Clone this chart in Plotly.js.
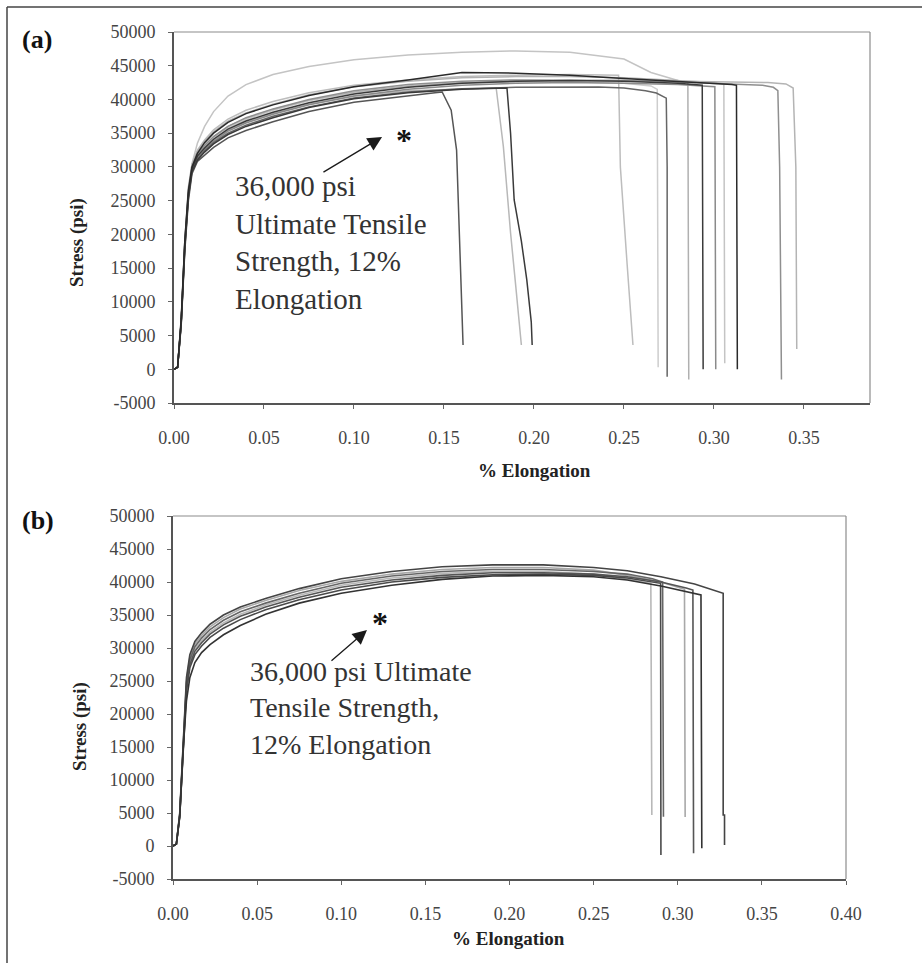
<!DOCTYPE html>
<html>
<head>
<meta charset="utf-8">
<script src="https://cdn.plot.ly/plotly-3.0.1.min.js"></script>
<style>html,body{margin:0;padding:0;background:#fff;}#chart{width:922px;height:963px;}</style>
</head>
<body>
<div id="chart"></div>
<script>
// ---------- Data ----------
// Panel (a): common strain grid (% elongation) and stress (psi) per specimen
const gridA = [0, 0.002, 0.004, 0.006, 0.008, 0.010, 0.013, 0.017, 0.022, 0.030, 0.040, 0.055, 0.075, 0.100, 0.130, 0.160, 0.190, 0.220, 0.250, 0.280, 0.310, 0.330];

const a1Stress = [0, 300, 6500, 17500, 25000, 29000, 30800, 31800, 32900, 34300, 35400, 36700, 38200, 39600, 40600];
const a1TailX = [0.145, 0.149, 0.154, 0.157, 0.158, 0.159, 0.1606];
const a1TailY = [41000, 41100, 38400, 32500, 25100, 15800, 3600];

const a2Stress = [0, 300, 7000, 18500, 26000, 29800, 31500, 32800, 34000, 35400, 36600, 37900, 39300, 40500, 41300, 41600];
const a2TailX = [0.179, 0.183, 0.187, 0.190, 0.193];
const a2TailY = [41700, 33000, 20200, 12000, 3600];

const a3Stress = [0, 300, 6800, 18000, 25500, 29300, 31000, 32200, 33400, 34800, 36000, 37300, 38800, 40100, 41000, 41500];
const a3TailX = [0.185, 0.187, 0.189, 0.193, 0.196, 0.1985, 0.199];
const a3TailY = [41700, 35000, 25100, 19000, 13300, 7000, 3600];

const a4Stress = [0, 300, 7200, 18800, 26500, 30300, 32500, 34000, 35500, 37100, 38400, 39700, 41000, 42100, 42900, 43400, 43600, 43700];
const a4TailX = [0.247, 0.248, 0.2517, 0.255];
const a4TailY = [43600, 30000, 15800, 3600];

const a5Stress = [0, 300, 7000, 18500, 26000, 29800, 31700, 33000, 34300, 35800, 37000, 38400, 39800, 41000, 41900, 42400, 42600, 42600, 42400];
const a5TailX = [0.265, 0.2685, 0.269];
const a5TailY = [42000, 41500, 300];

const a6Stress = [0, 300, 6800, 18000, 25800, 29500, 31200, 32400, 33600, 35000, 36200, 37500, 38900, 40200, 41100, 41600, 41800, 41900];
const a6TailX = [0.236, 0.250, 0.262, 0.268, 0.2735, 0.274, 0.274];
const a6TailY = [41850, 41700, 41300, 40960, 40200, 30000, -1100];

const a7Stress = [0, 300, 7300, 19000, 26800, 30300, 32300, 33800, 35200, 36800, 38000, 39300, 40700, 41900, 42700, 43200, 43400, 43400, 43200, 42800];
const a7TailX = [0.2855, 0.286];
const a7TailY = [42600, -1500];

const a8Stress = [0, 300, 7000, 18500, 26000, 29800, 31600, 32800, 34100, 35600, 36800, 38100, 39500, 40800, 41800, 42400, 42700, 42800, 42700, 42400];
const a8TailX = [0.2935, 0.294];
const a8TailY = [42100, 0];

const a9Stress = [0, 300, 6900, 18200, 25700, 29600, 31400, 32600, 33800, 35300, 36500, 37800, 39200, 40500, 41500, 42100, 42400, 42500, 42400, 42200];
const a9TailX = [0.3005, 0.301];
const a9TailY = [41900, 0];

const a10Stress = [0, 300, 7000, 19000, 27000, 30500, 33500, 36000, 38200, 40500, 42200, 43700, 44900, 45900, 46600, 47000, 47200, 47000, 46000];
const a10TailX = [0.265, 0.280, 0.300, 0.3055, 0.306];
const a10TailY = [44000, 42800, 42500, 42300, 900];

const a11Stress = [0, 300, 7500, 19000, 26500, 30000, 32000, 33600, 35000, 36600, 37900, 39200, 40600, 41900, 42900, 44000, 43900, 43600, 43100, 42700, 42200];
const a11TailX = [0.3125, 0.313];
const a11TailY = [42100, 0];

const a12Stress = [0, 300, 7100, 18700, 26200, 30000, 31900, 33200, 34500, 36000, 37300, 38600, 40000, 41300, 42200, 42700, 42900, 42900, 42800, 42600, 42300];
const a12TailX = [0.327, 0.333, 0.3355, 0.3365, 0.3375];
const a12TailY = [42100, 41800, 41300, 30000, -1500];

const a13Stress = [0, 300, 7000, 18400, 26000, 29900, 31800, 33100, 34500, 36000, 37200, 38500, 39900, 41100, 42000, 42500, 42700, 42800, 42800, 42700, 42600, 42500];
const a13TailX = [0.340, 0.344, 0.3455, 0.346];
const a13TailY = [42300, 41700, 30000, 3000];

// Panel (b)
const gridB = [0, 0.002, 0.004, 0.006, 0.008, 0.010, 0.013, 0.017, 0.022, 0.030, 0.040, 0.055, 0.075, 0.100, 0.130, 0.160, 0.190, 0.220, 0.250, 0.270];

const b1Stress = [0, 300, 4600, 15500, 24300, 27800, 29800, 31100, 32400, 33800, 35100, 36500, 38000, 39500, 40600, 41300, 41600, 41600, 41200, 40400];
const b1TailX = [0.2840, 0.2846];
const b1TailY = [39800, 4700];

const b2Stress = [0, 300, 4500, 15000, 23500, 27000, 29000, 30300, 31600, 33000, 34300, 35800, 37300, 38800, 40000, 40700, 41100, 41200, 41000, 40600];
const b2TailX = [0.285, 0.2898, 0.290];
const b2TailY = [40000, 39800, -1360];

const b3Stress = [0, 300, 4700, 15800, 24700, 28200, 30200, 31500, 32800, 34200, 35500, 36800, 38300, 39800, 40900, 41600, 41900, 41900, 41600, 41200];
const b3TailX = [0.285, 0.291, 0.2915];
const b3TailY = [40500, 40000, 4440];

const b4Stress = [0, 300, 4800, 16000, 25000, 28600, 30600, 31900, 33200, 34600, 35900, 37200, 38700, 40100, 41200, 41900, 42200, 42200, 41800, 41000];
const b4TailX = [0.290, 0.3040, 0.3044];
const b4TailY = [40000, 38900, 4400];

const b5Stress = [0, 300, 4600, 15300, 24000, 27500, 29500, 30800, 32100, 33500, 34800, 36200, 37700, 39200, 40300, 41000, 41400, 41400, 41200, 40800];
const b5TailX = [0.290, 0.305, 0.309, 0.3094];
const b5TailY = [40000, 39100, 38780, -1100];

const b6Stress = [0, 300, 4400, 14500, 22000, 25500, 27800, 29300, 30500, 32000, 33400, 35100, 36800, 38300, 39500, 40400, 40900, 41000, 40800, 40300];
const b6TailX = [0.290, 0.305, 0.3138, 0.3143];
const b6TailY = [39400, 38600, 38030, -350];

const b7Stress = [0, 300, 5000, 16500, 25500, 29000, 31000, 32300, 33600, 35000, 36200, 37500, 39000, 40500, 41600, 42300, 42600, 42600, 42200, 41700];
const b7TailX = [0.290, 0.310, 0.320, 0.327, 0.3270, 0.3278, 0.3278];
const b7TailY = [40800, 39700, 38900, 38300, 4700, 4700, 150];

// Axis ticks
const yTickVals = [-5000, 0, 5000, 10000, 15000, 20000, 25000, 30000, 35000, 40000, 45000, 50000];
const yTickText = ['-5000', '0', '5000', '10000', '15000', '20000', '25000', '30000', '35000', '40000', '45000', '50000'];
const xTickValsA = [0, 0.05, 0.10, 0.15, 0.20, 0.25, 0.30, 0.35];
const xTickTextA = ['0.00', '0.05', '0.10', '0.15', '0.20', '0.25', '0.30', '0.35'];
const xTickValsB = [0, 0.05, 0.10, 0.15, 0.20, 0.25, 0.30, 0.35, 0.40];
const xTickTextB = ['0.00', '0.05', '0.10', '0.15', '0.20', '0.25', '0.30', '0.35', '0.40'];

// Annotation targets (UTS marker 36,000 psi at 12%)
const arrowA = {tailX: 0.0822, tailY: 29100, headX: 0.1156, headY: 34440};
const starA = {x: 0.1278, y: 34000};
const arrowB = {tailX: 0.0933, tailY: 27880, headX: 0.1153, headY: 32720};
const starB = {x: 0.1231, y: 33800};

// ---------- Build traces ----------
function curve(grid, stress, tx, ty, color, xa, ya, w) {
  return {
    type: 'scatter', mode: 'lines',
    x: grid.slice(0, stress.length).concat(tx),
    y: stress.concat(ty),
    xaxis: xa, yaxis: ya,
    line: {color: color, width: w || 1.5},
    hoverinfo: 'skip', showlegend: false
  };
}

const traces = [
  curve(gridA, a10Stress, a10TailX, a10TailY, '#c4c4c4', 'x', 'y'),
  curve(gridA, a5Stress, a5TailX, a5TailY, '#cdcdcd', 'x', 'y'),
  curve(gridA, a4Stress, a4TailX, a4TailY, '#bdbdbd', 'x', 'y'),
  curve(gridA, a2Stress, a2TailX, a2TailY, '#b8b8b8', 'x', 'y'),
  curve(gridA, a7Stress, a7TailX, a7TailY, '#b0b0b0', 'x', 'y'),
  curve(gridA, a13Stress, a13TailX, a13TailY, '#b4b4b4', 'x', 'y'),
  curve(gridA, a9Stress, a9TailX, a9TailY, '#8a8a8a', 'x', 'y'),
  curve(gridA, a12Stress, a12TailX, a12TailY, '#8f8f8f', 'x', 'y'),
  curve(gridA, a6Stress, a6TailX, a6TailY, '#666666', 'x', 'y'),
  curve(gridA, a1Stress, a1TailX, a1TailY, '#555555', 'x', 'y'),
  curve(gridA, a3Stress, a3TailX, a3TailY, '#3a3a3a', 'x', 'y'),
  curve(gridA, a8Stress, a8TailX, a8TailY, '#3a3a3a', 'x', 'y'),
  curve(gridA, a11Stress, a11TailX, a11TailY, '#2a2a2a', 'x', 'y'),

  curve(gridB, b1Stress, b1TailX, b1TailY, '#b8b8b8', 'x2', 'y2', 1.6),
  curve(gridB, b4Stress, b4TailX, b4TailY, '#a8a8a8', 'x2', 'y2', 1.6),
  curve(gridB, b3Stress, b3TailX, b3TailY, '#666666', 'x2', 'y2', 1.6),
  curve(gridB, b5Stress, b5TailX, b5TailY, '#555555', 'x2', 'y2', 1.6),
  curve(gridB, b2Stress, b2TailX, b2TailY, '#4a4a4a', 'x2', 'y2', 1.6),
  curve(gridB, b7Stress, b7TailX, b7TailY, '#444444', 'x2', 'y2', 1.6),
  curve(gridB, b6Stress, b6TailX, b6TailY, '#333333', 'x2', 'y2', 1.6)
];

// ---------- Layout ----------
const W = 922, H = 963;
const px = v => v / W;
const py = v => 1 - v / H;
const serif = 'Liberation Serif';
const tickFont = {family: serif, size: 18, color: '#444'};

function xAxis(domain, range, vals, text, anchor) {
  return {
    domain: domain, range: range, anchor: anchor,
    showgrid: false, zeroline: false,
    showline: true, linecolor: '#555', linewidth: 2,
    ticks: 'outside', ticklen: 4, tickwidth: 1, tickcolor: '#666',
    tickvals: vals, ticktext: text, tickfont: tickFont,
    ticklabelstandoff: 13, fixedrange: true
  };
}
function yAxis(domain, anchor) {
  return {
    domain: domain, range: [-5000, 50000], anchor: anchor,
    showgrid: false, zeroline: false,
    showline: true, linecolor: '#555', linewidth: 2,
    ticks: 'outside', ticklen: 4, tickwidth: 1, tickcolor: '#666',
    tickvals: yTickVals, ticktext: yTickText, tickfont: tickFont,
    ticklabelstandoff: 9, fixedrange: true
  };
}

const frame = (xr, yr) => [
  {type: 'line', xref: xr + ' domain', yref: yr + ' domain', x0: 0, x1: 1, y0: 1, y1: 1, line: {color: '#8c8c8c', width: 1.2}},
  {type: 'line', xref: xr + ' domain', yref: yr + ' domain', x0: 1, x1: 1, y0: 0, y1: 1, line: {color: '#8c8c8c', width: 1.2}}
];

function arrow(a, xr, yr) {
  return {
    xref: xr, yref: yr, axref: xr, ayref: yr,
    x: a.headX, y: a.headY, ax: a.tailX, ay: a.tailY,
    text: '', showarrow: true, arrowhead: 2, arrowsize: 2.2, arrowwidth: 1.3, arrowcolor: '#1a1a1a', standoff: 0
  };
}

const layout = {
  width: W, height: H, autosize: false,
  margin: {l: 0, r: 0, t: 0, b: 0},
  paper_bgcolor: '#ffffff', plot_bgcolor: '#ffffff',
  showlegend: false,
  font: {family: serif},
  xaxis: xAxis([px(174), px(870)], [0, 0.3867], xTickValsA, xTickTextA, 'y'),
  yaxis: yAxis([py(403), py(32)], 'x'),
  xaxis2: xAxis([px(173), px(846)], [0, 0.4], xTickValsB, xTickTextB, 'y2'),
  yaxis2: yAxis([py(879), py(516)], 'x2'),
  shapes: [].concat(frame('x', 'y'), frame('x2', 'y2'), [
    {type: 'line', xref: 'paper', yref: 'paper', x0: px(7), x1: 1, y0: py(7), y1: py(7), line: {color: '#444', width: 1.5}},
    {type: 'line', xref: 'paper', yref: 'paper', x0: px(7), x1: px(7), y0: py(7), y1: 0, line: {color: '#444', width: 1.5}}
  ]),
  annotations: [
    {xref: 'paper', yref: 'paper', x: px(37), y: py(40), text: '<b>(a)</b>', showarrow: false, xanchor: 'center', yanchor: 'middle', font: {family: serif, size: 26, color: '#111'}},
    {xref: 'paper', yref: 'paper', x: px(38), y: py(520), text: '<b>(b)</b>', showarrow: false, xanchor: 'center', yanchor: 'middle', font: {family: serif, size: 26, color: '#111'}},
    {xref: 'paper', yref: 'paper', x: px(77), y: py(243), text: '<b>Stress (psi)</b>', textangle: -90, showarrow: false, xanchor: 'center', yanchor: 'middle', font: {family: serif, size: 19, color: '#222'}},
    {xref: 'paper', yref: 'paper', x: px(80), y: py(727), text: '<b>Stress (psi)</b>', textangle: -90, showarrow: false, xanchor: 'center', yanchor: 'middle', font: {family: serif, size: 19, color: '#222'}},
    {xref: 'paper', yref: 'paper', x: px(534), y: py(470), text: '<b>% Elongation</b>', showarrow: false, xanchor: 'center', yanchor: 'middle', font: {family: serif, size: 19, color: '#222'}},
    {xref: 'paper', yref: 'paper', x: px(508), y: py(938), text: '<b>% Elongation</b>', showarrow: false, xanchor: 'center', yanchor: 'middle', font: {family: serif, size: 19, color: '#222'}},
    {xref: 'paper', yref: 'paper', x: px(233), y: py(243), text: '36,000 psi<br>Ultimate Tensile<br>Strength, 12%<br>Elongation', showarrow: false, xanchor: 'left', yanchor: 'middle', align: 'left', font: {family: serif, size: 29, color: '#333'}},
    {xref: 'paper', yref: 'paper', x: px(248), y: py(708), text: '36,000 psi Ultimate<br>Tensile Strength,<br>12% Elongation', showarrow: false, xanchor: 'left', yanchor: 'middle', align: 'left', font: {family: serif, size: 28, color: '#333'}},
    arrow(arrowA, 'x', 'y'),
    arrow(arrowB, 'x2', 'y2'),
    {xref: 'x', yref: 'y', x: starA.x, y: starA.y, text: '<b>*</b>', showarrow: false, xanchor: 'center', yanchor: 'middle', font: {family: serif, size: 32, color: '#111'}},
    {xref: 'x2', yref: 'y2', x: starB.x, y: starB.y, text: '<b>*</b>', showarrow: false, xanchor: 'center', yanchor: 'middle', font: {family: serif, size: 32, color: '#111'}}
  ]
};

Plotly.newPlot('chart', traces, layout, {staticPlot: true, displayModeBar: false});
</script>
</body>
</html>
